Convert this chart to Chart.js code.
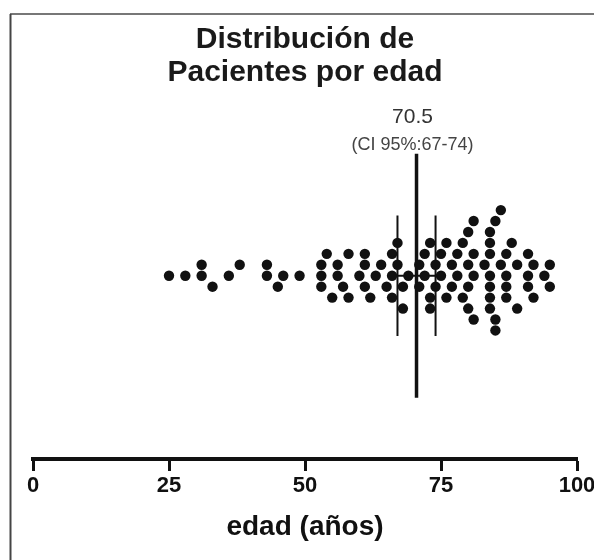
<!DOCTYPE html>
<html>
<head>
<meta charset="utf-8">
<script src="https://cdn.jsdelivr.net/npm/chart.js@4"></script>
<style>
  html, body { margin: 0; padding: 0; background: #fff; overflow: hidden; }
  #wrap { position: relative; width: 614px; height: 560px; }
</style>
</head>
<body>
<div id="wrap"><canvas id="edadChart"></canvas></div>
<script>
// edades (una por paciente)
const ages = [
	25, 28, 31, 31, 33, 36, 38, 43, 43, 45, 46, 49,
	53, 53, 53, 54, 55, 56, 56, 57, 58, 58,
	60, 61, 61, 61, 62, 63, 64, 65, 66, 66, 66,
	67, 67, 68, 68, 69, 71, 71, 72, 72, 73, 73, 73, 74, 74, 75, 75,
	76, 76, 77, 77, 78, 78, 79, 79, 80, 80, 80, 80, 81, 81, 81, 81, 83,
	84, 84, 84, 84, 84, 84, 84, 85, 85, 85, 86, 86,
	87, 87, 87, 87, 88, 89, 89, 91, 91, 91, 92, 92, 94, 95, 95
];
const medianAge = 70.5;
const ciLow = 67;
const ciHigh = 74;
const xTicks = [0, 25, 50, 75, 100];
const titleLines = ['Distribución de', 'Pacientes por edad'];
const xTitle = 'edad (años)';

const FONT = '"Liberation Sans", Arial, sans-serif';

// beeswarm sencillo: cada punto va al carril libre mas cercano, primero arriba
const swarm = (values, minGap) => {
	const lanes = {};
	return values.map((v) => {
		for (let k = 0; ; k++) {
			const lane = k === 0 ? 0 : (k % 2 ? (k + 1) / 2 : -k / 2);
			const taken = lanes[lane] || [];
			if (taken.every((u) => Math.abs(u - v) >= minGap)) {
				lanes[lane] = taken.concat(v);
				return { x: v, y: lane };
			}
		}
	});
};

const vLine = (x, half) => [{ x: x, y: half }, { x: x, y: -half }];

const frame = {
	id: 'frame',
	beforeDraw(chart) {
		const { ctx } = chart;
		ctx.save();
		ctx.fillStyle = '#fff';
		ctx.fillRect(0, 0, chart.width, chart.height);
		ctx.lineWidth = 2;
		ctx.strokeStyle = '#777';
		ctx.beginPath();
		ctx.moveTo(10, 14);
		ctx.lineTo(chart.width, 14);
		ctx.stroke();
		ctx.strokeStyle = '#444';
		ctx.beginPath();
		ctx.moveTo(10.5, 14);
		ctx.lineTo(10.5, chart.height);
		ctx.stroke();
		ctx.restore();
	}
};

const statsLabel = {
	id: 'statsLabel',
	afterDatasetsDraw(chart) {
		const { ctx } = chart;
		const cx = chart.scales.x.getPixelForValue(medianAge) - 4;
		ctx.save();
		ctx.textAlign = 'center';
		ctx.textBaseline = 'middle';
		ctx.fillStyle = '#333';
		ctx.font = '21px ' + FONT;
		ctx.fillText(String(medianAge), cx, 117);
		ctx.fillStyle = '#444';
		ctx.font = '18px ' + FONT;
		ctx.fillText('(CI 95%:' + ciLow + '-' + ciHigh + ')', cx, 145);
		ctx.restore();
	}
};

const lineStyle = { showLine: true, pointRadius: 0, borderColor: '#111', order: 1 };

new Chart(document.getElementById('edadChart'), {
	type: 'scatter',
	data: {
		datasets: [
			{
				data: swarm(ages, 2.2),
				pointRadius: 5.2,
				pointBorderWidth: 0,
				backgroundColor: '#111',
				order: 0,
			},
			{ ...lineStyle, data: vLine(medianAge, 11.15), borderWidth: 3.5 },
			{ ...lineStyle, data: vLine(ciLow, 5.5), borderWidth: 2 },
			{ ...lineStyle, data: vLine(ciHigh, 5.5), borderWidth: 2 },
			{ ...lineStyle, data: [{ x: ciLow, y: 0 }, { x: ciHigh, y: 0 }], borderWidth: 2 },
		],
	},
	options: {
		responsive: true,
		maintainAspectRatio: false,
		animation: false,
		layout: { padding: { left: 33, right: 37, top: 0, bottom: 16 } },
		plugins: {
			legend: { display: false },
			tooltip: { enabled: false },
			title: {
				display: true,
				text: titleLines,
				color: '#1a1a1a',
				font: { family: FONT, size: 30, weight: 'bold', lineHeight: 1.08 },
				padding: { top: 24, bottom: 11 },
			},
		},
		scales: {
			x: {
				type: 'linear',
				min: 0,
				max: 100,
				afterBuildTicks: (axis) => { axis.ticks = xTicks.map((v) => ({ value: v })); },
				border: { display: true, color: '#111', width: 4 },
				grid: { drawOnChartArea: false, drawTicks: true, tickLength: 12, tickWidth: 3, tickColor: '#111' },
				ticks: {
					color: '#111',
					padding: 2,
					maxRotation: 0,
					autoSkip: false,
					font: { family: FONT, size: 22, weight: 'bold' },
				},
				title: {
					display: true,
					text: xTitle,
					color: '#111',
					font: { family: FONT, size: 28, weight: 'bold' },
					padding: { top: 9, bottom: 0 },
				},
			},
			y: {
				display: false,
				min: -16.75,
				max: 16.08,
			},
		},
	},
	plugins: [frame, statsLabel],
});
</script>
</body>
</html>
